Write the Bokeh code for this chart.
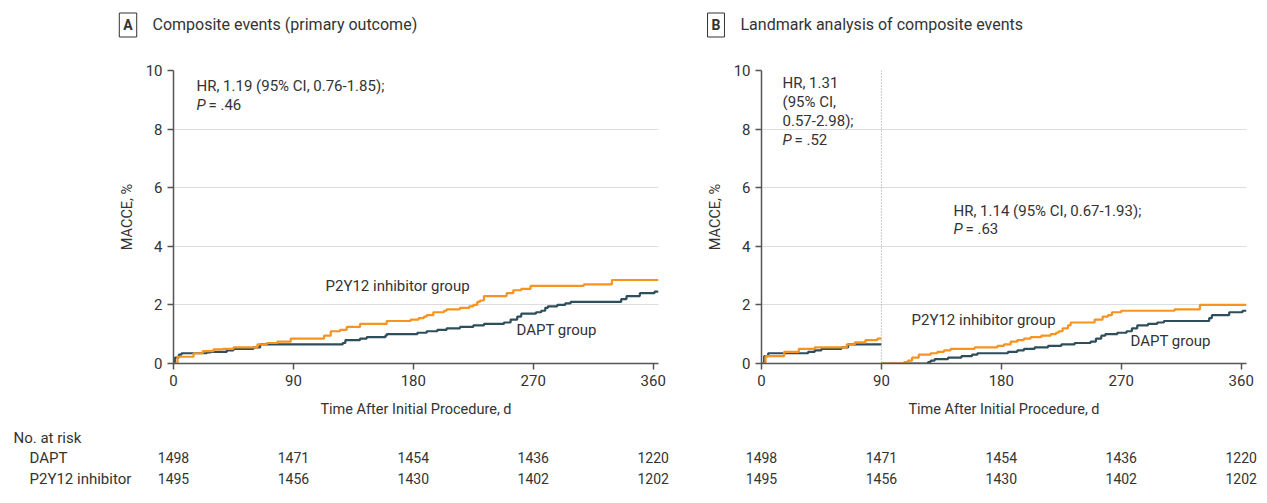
from bokeh.plotting import figure
from bokeh.models import Range1d, Label, Span, FixedTicker, ColumnDataSource
from bokeh.layouts import row
from bokeh.core.properties import value
from bokeh.embed import file_html
from bokeh.resources import INLINE

# ---------------- data ----------------
a_p2y_days = [0, 3, 15, 22, 30, 37, 45, 63, 70, 78, 88, 113, 118, 125, 130, 140, 160, 178, 184, 188,
              190, 195, 203, 205, 215, 222, 225, 228, 230, 233, 250, 255, 261, 268, 308, 329, 364]
a_p2y_vals = [0, 0.23, 0.35, 0.42, 0.48, 0.5, 0.55, 0.65, 0.7, 0.75, 0.85, 0.95, 1.1, 1.15, 1.25, 1.35, 1.45, 1.5, 1.55, 1.6,
              1.65, 1.75, 1.8, 1.85, 1.9, 1.95, 2.0, 2.1, 2.15, 2.3, 2.4, 2.5, 2.55, 2.65, 2.7, 2.85, 2.85]
a_dapt_days = [0, 1, 4, 6, 25, 28, 40, 45, 60, 65, 127, 129, 140, 145, 159, 160, 183, 190, 198, 205,
               215, 225, 233, 248, 253, 258, 261, 272, 276, 279, 281, 288, 294, 298, 336, 340, 350, 361, 364]
a_dapt_vals = [0, 0.2, 0.3, 0.35, 0.38, 0.4, 0.45, 0.5, 0.55, 0.65, 0.7, 0.8, 0.85, 0.9, 0.95, 1.0, 1.05, 1.1, 1.15, 1.2,
               1.25, 1.3, 1.35, 1.4, 1.5, 1.6, 1.7, 1.75, 1.8, 1.9, 1.95, 2.0, 2.05, 2.1, 2.2, 2.3, 2.4, 2.45, 2.45]

b1_p2y_days = [0, 3, 17, 28, 40, 64, 70, 78, 87, 90]
b1_p2y_vals = [0, 0.25, 0.4, 0.5, 0.55, 0.65, 0.72, 0.8, 0.85, 0.85]
b1_dapt_days = [0, 2, 5, 35, 40, 45, 60, 65, 90]
b1_dapt_vals = [0, 0.25, 0.35, 0.4, 0.45, 0.5, 0.55, 0.65, 0.65]

b2_p2y_days = [90, 107, 110, 113, 118, 127, 132, 137, 142, 160, 177, 182, 187, 192, 197, 202, 210, 217, 221, 223,
               226, 230, 232, 250, 256, 260, 263, 270, 310, 329, 364]
b2_p2y_vals = [0, 0.05, 0.1, 0.2, 0.3, 0.35, 0.4, 0.45, 0.5, 0.55, 0.6, 0.65, 0.75, 0.8, 0.85, 0.9, 0.95, 1.0, 1.05, 1.1,
               1.2, 1.3, 1.4, 1.5, 1.6, 1.65, 1.75, 1.8, 1.85, 2.0, 2.0]
b2_dapt_days = [90, 125, 127, 130, 140, 150, 158, 162, 185, 192, 197, 205, 215, 225, 235, 247, 251, 255, 258, 267,
                274, 278, 282, 290, 297, 302, 336, 338, 351, 361, 364]
b2_dapt_vals = [0, 0.05, 0.1, 0.15, 0.2, 0.25, 0.3, 0.35, 0.4, 0.45, 0.5, 0.55, 0.6, 0.65, 0.7, 0.75, 0.85, 0.95, 1.0, 1.05,
                1.1, 1.2, 1.3, 1.35, 1.4, 1.45, 1.55, 1.65, 1.75, 1.8, 1.8]

x_ticks = [0, 90, 180, 270, 360]
y_ticks = [0, 2, 4, 6, 8, 10]
risk_days = [0, 90, 180, 270, 360]
risk_dapt = [1498, 1471, 1454, 1436, 1220]
risk_p2y = [1495, 1456, 1430, 1402, 1202]
risk_rows = ["DAPT", "P2Y12 inhibitor"]
landmark_day = 90

# ---------------- styling / geometry ----------------
FONT = "Roboto"
TXT = "#333333"
ORANGE = "#F7931E"
TEAL = "#2E4E5B"
AXIS = "#555555"
FW, FH = 485, 293
X_END, Y_END = 364, 10
PXD = FW / X_END
PXV = FH / Y_END
HEAD_H = 50
MAIN_TOP = 20
MAIN_BOTTOM = 63
TABLE_H = 70
FRAME_BOTTOM_PAGE = HEAD_H + MAIN_TOP + FH
TABLE_TOP_PAGE = FRAME_BOTTOM_PAGE + MAIN_BOTTOM

A_LEFT_PAGE, A_BORDER_L, A_BORDER_R = 0, 173, 30
A_WIDTH = A_BORDER_L + FW + A_BORDER_R
B_LEFT_PAGE, B_BORDER_L, B_BORDER_R = A_WIDTH, 73, 13
B_WIDTH = B_BORDER_L + FW + B_BORDER_R


def make_main(border_left, border_right):
    p = figure(frame_width=FW, frame_height=FH, min_border_left=border_left, min_border_right=border_right,
               min_border_top=MAIN_TOP, min_border_bottom=MAIN_BOTTOM,
               x_range=Range1d(0, X_END), y_range=Range1d(0, Y_END),
               output_backend="svg", toolbar_location=None)
    p.outline_line_color = None
    p.xgrid.grid_line_color = None
    p.ygrid.grid_line_color = "#dddddd"
    p.ygrid.grid_line_width = 1
    p.xaxis.ticker = FixedTicker(ticks=x_ticks)
    p.yaxis.ticker = FixedTicker(ticks=y_ticks)
    for ax in (p.xaxis[0], p.yaxis[0]):
        ax.axis_line_color = AXIS
        ax.axis_line_width = 1.5
        ax.major_tick_line_color = AXIS
        ax.major_tick_line_width = 1.5
        ax.major_tick_out = 6
        ax.major_tick_in = 0
        ax.minor_tick_line_color = None
        ax.major_label_text_font = FONT
        ax.major_label_text_font_size = "15px"
        ax.major_label_text_color = TXT
        ax.axis_label_text_font = FONT
        ax.axis_label_text_font_size = "14.5px"
        ax.axis_label_text_font_style = "normal"
        ax.axis_label_text_color = TXT
    p.xaxis.axis_label = "Time After Initial Procedure, d"
    p.yaxis.axis_label = "MACCE, %"
    p.xaxis.major_label_standoff = 5
    p.yaxis.major_label_standoff = 5
    p.xaxis.axis_label_standoff = 12
    p.yaxis.axis_label_standoff = 7
    return p


def make_plain(width, height, x0, x1):
    p = figure(frame_width=width, frame_height=height, min_border=0, min_border_left=0, min_border_right=0,
               min_border_top=0, min_border_bottom=0, x_range=Range1d(x0, x1),
               y_range=Range1d(height, 0), x_axis_type=None, y_axis_type=None,
               output_backend="svg", toolbar_location=None)
    p.outline_line_color = None
    p.grid.visible = False
    return p


def add_label(p, x, y, text, align="left", size="15px", style="normal", **kw):
    p.add_layout(Label(x=x, y=y, text=text, text_align=align, text_baseline="middle", text_font=FONT,
                       text_font_size=size, text_font_style=style, text_color=TXT, **kw))


def main_label(p, frame_left_page, px, py, text, style="normal"):
    add_label(p, (px - frame_left_page) / PXD, (FRAME_BOTTOM_PAGE - py) / PXV, text, style=style)


# ---------------- header ----------------
def header(width, frame_left_local, letter, title):
    h = make_plain(width, HEAD_H, 0, width)
    bx = frame_left_local - 45.5
    add_label(h, bx, 24.5, letter, align="center", size="14px", style="bold",
              border_line_color=TXT, border_line_width=1, background_fill_color="white", padding=4)
    add_label(h, bx + 24.5, 24, title, size="16px")
    return h


headA = header(A_WIDTH, A_BORDER_L, "A", "Composite events (primary outcome)")
headB = header(B_WIDTH, B_BORDER_L, "B", "Landmark analysis of composite events")

# ---------------- main panels ----------------
LA = A_LEFT_PAGE + A_BORDER_L
pa = make_main(A_BORDER_L, A_BORDER_R)
pa.step(a_dapt_days, a_dapt_vals, mode="after", line_color=TEAL, line_width=2.2)
pa.step(a_p2y_days, a_p2y_vals, mode="after", line_color=ORANGE, line_width=2.2)
for px, py, text, style in [(196, 85, "HR, 1.19 (95% CI, 0.76-1.85);", "normal"),
                            (196, 104, "P", "italic"), (208, 104, "= .46", "normal"),
                            (325, 285, "P2Y12 inhibitor group", "normal"),
                            (516, 329, "DAPT group", "normal")]:
    main_label(pa, LA, px, py, text, style)

LB = B_LEFT_PAGE + B_BORDER_L
pb = make_main(B_BORDER_L, B_BORDER_R)
pb.add_layout(Span(location=landmark_day, dimension="height", line_color="#999999",
                   line_width=1, line_dash="1 2"))
pb.step(b1_dapt_days, b1_dapt_vals, mode="after", line_color=TEAL, line_width=2.2)
pb.step(b1_p2y_days, b1_p2y_vals, mode="after", line_color=ORANGE, line_width=2.2)
pb.step(b2_dapt_days, b2_dapt_vals, mode="after", line_color=TEAL, line_width=2.2)
pb.step(b2_p2y_days, b2_p2y_vals, mode="after", line_color=ORANGE, line_width=2.2)
for px, py, text, style in [(782, 82, "HR, 1.31", "normal"), (782, 101, "(95% CI,", "normal"),
                            (782, 120, "0.57-2.98);", "normal"),
                            (782, 139, "P", "italic"), (794, 139, "= .52", "normal"),
                            (953, 210, "HR, 1.14 (95% CI, 0.67-1.93);", "normal"),
                            (953, 228, "P", "italic"), (965, 228, "= .63", "normal"),
                            (911, 319, "P2Y12 inhibitor group", "normal"),
                            (1130, 340, "DAPT group", "normal")]:
    main_label(pb, LB, px, py, text, style)


# ---------------- at-risk tables (x in days) ----------------
def table(width, border_left, with_rows):
    x0 = -border_left / PXD
    x1 = (width - border_left) / PXD
    t = make_plain(width, TABLE_H, x0, x1)
    xs = list(risk_days) + list(risk_days)
    ys = [457 - TABLE_TOP_PAGE] * len(risk_days) + [478 - TABLE_TOP_PAGE] * len(risk_days)
    txt = [str(n) for n in risk_dapt] + [str(n) for n in risk_p2y]
    src = ColumnDataSource(dict(x=xs, y=ys, text=txt))
    t.text(x="x", y="y", text="text", source=src, text_align="center", text_baseline="middle",
           text_font=value(FONT), text_font_size="14px", text_color=TXT)
    if with_rows:
        add_label(t, x0 + 13 / PXD, 437 - TABLE_TOP_PAGE, "No. at risk")
        add_label(t, x0 + 29 / PXD, 457 - TABLE_TOP_PAGE, risk_rows[0])
        add_label(t, x0 + 29 / PXD, 478 - TABLE_TOP_PAGE, risk_rows[1])
    return t


tabA = table(A_WIDTH, A_BORDER_L, True)
tabB = table(B_WIDTH, B_BORDER_L, False)

roots = [row(headA, headB), row(pa, pb), row(tabA, tabB)]
open("out.html", "w").write(file_html(roots, INLINE))
